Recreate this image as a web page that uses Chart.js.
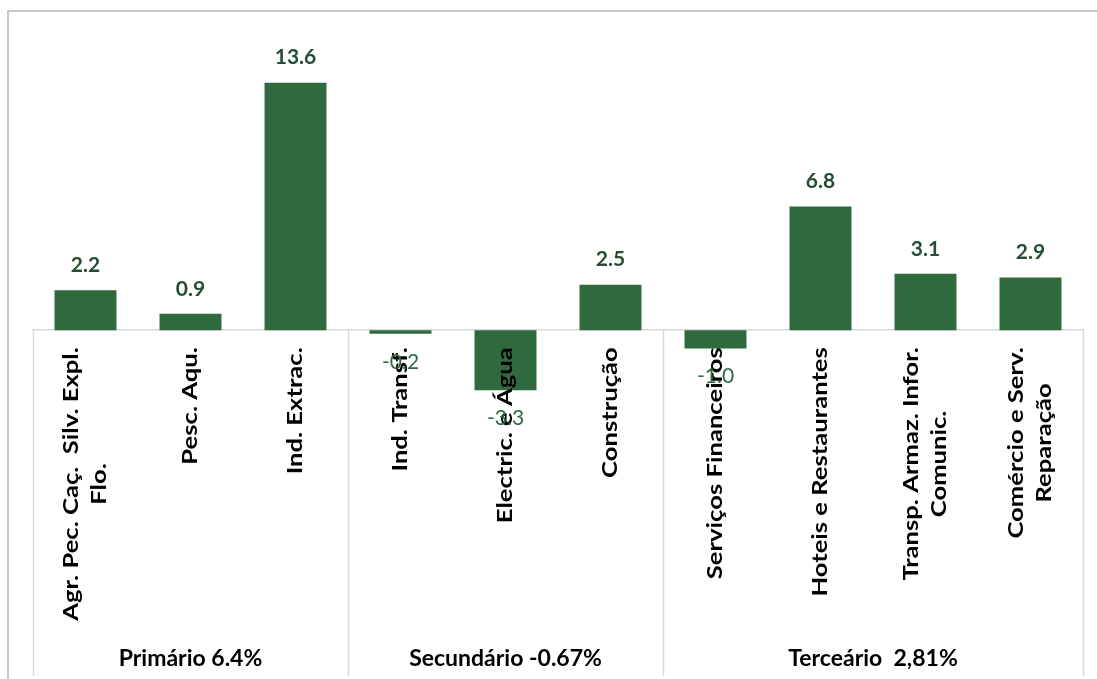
<!DOCTYPE html>
<html>
<head>
<meta charset="utf-8">
<script src="https://cdn.jsdelivr.net/npm/chart.js@4.4.1/dist/chart.umd.min.js"></script>
<style>
  html, body { margin: 0; padding: 0; background: #fff; }
  #wrap { position: relative; width: 1097px; height: 679px; }
</style>
</head>
<body>
<div id="wrap"><canvas id="chart"></canvas></div>
<script>
// Data
const categories = [
  ['Agr. Pec. Caç.  Silv. Expl.', 'Flo.'],
  ['Pesc. Aqu.'],
  ['Ind. Extrac.'],
  ['Ind. Transf.'],
  ['Electric. e Água'],
  ['Construção'],
  ['Serviços Financeiros'],
  ['Hoteis e Restaurantes'],
  ['Transp. Armaz. Infor.', 'Comunic.'],
  ['Comércio e Serv.', 'Reparação']
];
const growth = [2.2, 0.9, 13.6, -0.2, -3.3, 2.5, -1.0, 6.8, 3.1, 2.9];
const groupNames = ['Primário 6.4%', 'Secundário -0.67%', 'Terceário  2,81%'];
const groupSizes = [3, 3, 4];

const FONT = 'Lato, "Open Sans", sans-serif';
const BAR = '#2f6a3e';
const STRETCH = 1.22; // the source picture is drawn taller than it is wide

// Outer frame (left + top edge of the chart box)
const framePlugin = {
  id: 'frame',
  beforeDraw(chart) {
    const ctx = chart.ctx;
    ctx.save();
    ctx.strokeStyle = '#c9c9c9';
    ctx.lineWidth = 2;
    ctx.beginPath();
    ctx.moveTo(8, chart.height);
    ctx.lineTo(8, 11);
    ctx.lineTo(chart.width, 11);
    ctx.stroke();
    ctx.restore();
  }
};

// Category labels, group dividers / names and value labels
const labelsPlugin = {
  id: 'labels',
  afterDatasetsDraw(chart) {
    const ctx = chart.ctx;
    const xs = chart.scales.x;
    const ys = chart.scales.y;
    const area = chart.chartArea;
    const zero = ys.getPixelForValue(0);

    const edge = i => {
      if (i <= 0) return area.left;
      if (i >= growth.length) return area.right;
      return (xs.getPixelForValue(i - 1) + xs.getPixelForValue(i)) / 2;
    };

    ctx.save();

    // group dividers
    ctx.strokeStyle = '#d9d9d9';
    ctx.lineWidth = 1.5;
    let start = 0;
    const bounds = [0];
    groupSizes.forEach(n => { start += n; bounds.push(start); });
    bounds.forEach(b => {
      const px = Math.round(edge(b)) + 0.5;
      ctx.beginPath();
      ctx.moveTo(px, zero);
      ctx.lineTo(px, area.bottom);
      ctx.stroke();
    });

    // group names
    ctx.fillStyle = '#000';
    ctx.font = 'bold 23px ' + FONT;
    ctx.textAlign = 'center';
    ctx.textBaseline = 'middle';
    groupNames.forEach((name, g) => {
      const cx = (edge(bounds[g]) + edge(bounds[g + 1])) / 2;
      ctx.fillText(name, cx, area.bottom - 17);
    });

    // category labels, rotated, longest line ends near the axis, lines centred
    ctx.font = 'bold 21px ' + FONT;
    const lineGap = 28;
    categories.forEach((lines, i) => {
      const cx = xs.getPixelForValue(i);
      const widths = lines.map(l => ctx.measureText(l).width);
      const longest = Math.max(...widths) * STRETCH;
      const mid = zero + 17 + longest / 2;
      ctx.save();
      ctx.translate(cx, mid);
      ctx.rotate(-Math.PI / 2);
      ctx.scale(STRETCH, 1);
      ctx.textAlign = 'center';
      ctx.textBaseline = 'middle';
      lines.forEach((l, k) => {
        const off = (k - (lines.length - 1) / 2) * lineGap;
        ctx.fillText(l, 0, off);
      });
      ctx.restore();
    });

    // value labels
    const meta = chart.getDatasetMeta(0);
    ctx.textAlign = 'center';
    ctx.textBaseline = 'middle';
    meta.data.forEach((bar, i) => {
      const v = growth[i];
      if (v >= 0) {
        ctx.font = 'bold 21px ' + FONT;
        ctx.fillStyle = '#264d31';
        ctx.fillText(v.toFixed(1), bar.x, bar.y - 25);
      } else {
        ctx.font = '21px ' + FONT;
        ctx.fillStyle = BAR;
        ctx.fillText(v.toFixed(1), bar.x, bar.y + 28);
      }
    });

    ctx.restore();
  }
};

new Chart(document.getElementById('chart'), {
  type: 'bar',
  data: {
    labels: categories,
    datasets: [{
      data: growth,
      backgroundColor: BAR,
      borderWidth: 0,
      barPercentage: 0.59,
      categoryPercentage: 1
    }]
  },
  options: {
    responsive: true,
    maintainAspectRatio: false,
    animation: false,
    layout: {
      padding: { left: 33, right: 14, top: 39, bottom: 3 }
    },
    plugins: {
      legend: { display: false },
      tooltip: { enabled: false }
    },
    scales: {
      x: {
        position: { y: 0 },
        grid: { display: false },
        ticks: { display: false },
        border: { display: true, color: '#d9d9d9', width: 1.5 }
      },
      y: {
        display: false,
        min: -19,
        max: 16
      }
    }
  },
  plugins: [framePlugin, labelsPlugin]
});
</script>
</body>
</html>
